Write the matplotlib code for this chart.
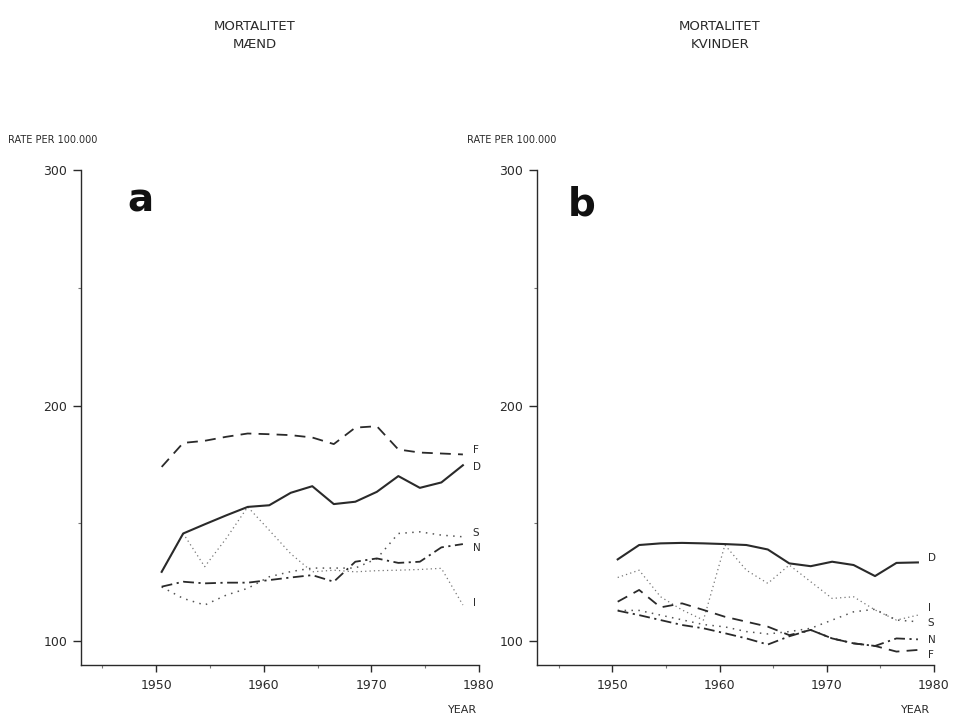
import matplotlib
matplotlib.use("Agg")
import matplotlib.pyplot as plt
from matplotlib.ticker import FixedLocator

years = [1950.5 + 2 * k for k in range(15)]

# Panel a: men
men_D = [129.4, 145.7, 149.6, 153.4, 157.0, 157.7, 163.0, 165.8, 158.2, 159.2, 163.4, 170.1, 165.1, 167.4, 174.7]
men_F = [174.0, 184.2, 185.1, 186.8, 188.2, 187.9, 187.5, 186.5, 183.7, 190.7, 191.3, 181.4, 180.1, 179.7, 179.3]
men_S = [123.0, 118.1, 115.3, 119.5, 122.4, 127.3, 129.5, 131.0, 131.0, 131.0, 135.0, 145.7, 146.4, 145.0, 144.3]
men_N = [123.1, 125.2, 124.5, 124.8, 124.8, 125.9, 127.0, 128.0, 125.2, 133.7, 135.1, 133.2, 133.7, 139.8, 141.2]
men_I = [129.4, 145.7, 131.6, 143.6, 157.0, 147.1, 137.1, 129.4, 130.1, 129.4, 129.9, 130.1, 130.4, 130.9, 115.3]

# Panel b: women
wom_D = [134.7, 140.8, 141.5, 141.7, 141.5, 141.2, 140.8, 138.9, 133.0, 131.8, 133.7, 132.3, 127.6, 133.2, 133.4]
wom_I = [127.0, 130.1, 118.8, 113.2, 108.9, 140.8, 130.1, 124.5, 132.3, 125.2, 118.1, 118.8, 113.2, 108.9, 111.0]
wom_S = [113.0, 113.0, 111.0, 109.0, 107.0, 106.0, 104.0, 103.0, 104.0, 105.4, 108.9, 112.4, 113.5, 108.9, 108.2]
wom_N = [112.9, 111.0, 108.9, 106.8, 105.4, 103.3, 101.1, 98.5, 102.0, 104.7, 101.1, 99.0, 97.9, 101.1, 100.7]
wom_F = [116.7, 121.7, 114.3, 116.0, 113.2, 110.3, 108.2, 106.1, 102.5, 104.7, 101.1, 99.0, 97.9, 95.5, 96.2]

series_names = ["D", "F", "S", "N", "I"]
men_label_y = {"F": 181.1, "D": 174.0, "S": 145.9, "N": 139.5, "I": 116.1}
wom_label_y = {"D": 135.1, "I": 113.9, "S": 107.5, "N": 100.4, "F": 94.1}

x_major = [1950, 1960, 1970, 1980]
x_minor = [1945, 1955, 1965, 1975]
y_major = [100, 200, 300]
y_minor = [150, 250]

titles = ["MORTALITET\nMÆND", "MORTALITET\nKVINDER"]
panel_letters = ["a", "b"]

ink = "#2a2a2a"
styles = {
    "D": dict(color=ink, lw=1.5, linestyle="-"),
    "F": dict(color=ink, lw=1.3, linestyle=(0, (6, 4))),
    "N": dict(color=ink, lw=1.3, linestyle=(0, (6, 2.5, 1.2, 2.5))),
    "S": dict(color="#555555", lw=1.1, linestyle=(0, (1, 3.5))),
    "I": dict(color="#777777", lw=0.9, linestyle=(0, (1, 2.5))),
}

fig = plt.figure(figsize=(9.55, 7.19), dpi=100)
ax_a = fig.add_axes([0.0848, 0.0751, 0.4168, 0.6878])
ax_b = fig.add_axes([0.5626, 0.0751, 0.4154, 0.6878])

data = [
    {"D": men_D, "F": men_F, "S": men_S, "N": men_N, "I": men_I},
    {"D": wom_D, "F": wom_F, "S": wom_S, "N": wom_N, "I": wom_I},
]
label_ys = [men_label_y, wom_label_y]
title_x = [255 / 955, 720 / 955]
rate_x = [8 / 955, 467 / 955]
year_x = [463 / 955, 916 / 955]
letter_pos = [(140 / 955, 1 - 200 / 719), (582 / 955, 1 - 205 / 719)]

for i, ax in enumerate([ax_a, ax_b]):
    for name in ["I", "S", "N", "F", "D"]:
        ax.plot(years, data[i][name], **styles[name])
    for name in series_names:
        ax.text(1979.4, label_ys[i][name], name, fontsize=7.5, color=ink,
                ha="left", va="center")
    ax.set_xlim(1943, 1980)
    ax.set_ylim(89.8, 300)
    ax.spines["top"].set_visible(False)
    ax.spines["right"].set_visible(False)
    ax.spines["left"].set_color(ink)
    ax.spines["bottom"].set_color(ink)
    ax.spines["left"].set_linewidth(1.0)
    ax.spines["bottom"].set_linewidth(1.0)
    ax.xaxis.set_major_locator(FixedLocator(x_major))
    ax.xaxis.set_minor_locator(FixedLocator(x_minor))
    ax.yaxis.set_major_locator(FixedLocator(y_major))
    ax.yaxis.set_minor_locator(FixedLocator(y_minor))
    ax.set_xticklabels([str(v) for v in x_major])
    ax.set_yticklabels([str(v) for v in y_major])
    ax.tick_params(axis="both", which="major", direction="out", length=6,
                   width=1.0, color=ink, labelsize=9, labelcolor=ink, pad=4)
    ax.tick_params(axis="both", which="minor", direction="out", length=2.5,
                   width=0.8, color="#777777")
    ax.tick_params(axis="x", which="major", length=5, pad=5)
    ax.patch.set_alpha(0)

    fig.text(title_x[i], 1 - 35 / 719, titles[i], ha="center", va="center",
             fontsize=9.5, color=ink, linespacing=1.5)
    fig.text(rate_x[i], 1 - 140 / 719, "RATE PER 100.000", ha="left",
             va="center", fontsize=7, color=ink)
    fig.text(year_x[i], 1 - 710 / 719, "YEAR", ha="center", va="center",
             fontsize=8, color=ink)
    fig.text(letter_pos[i][0], letter_pos[i][1], panel_letters[i],
             ha="center", va="center", fontsize=28, fontweight="bold",
             color="#111111")

fig.savefig("out.png", dpi=100, facecolor="white")
